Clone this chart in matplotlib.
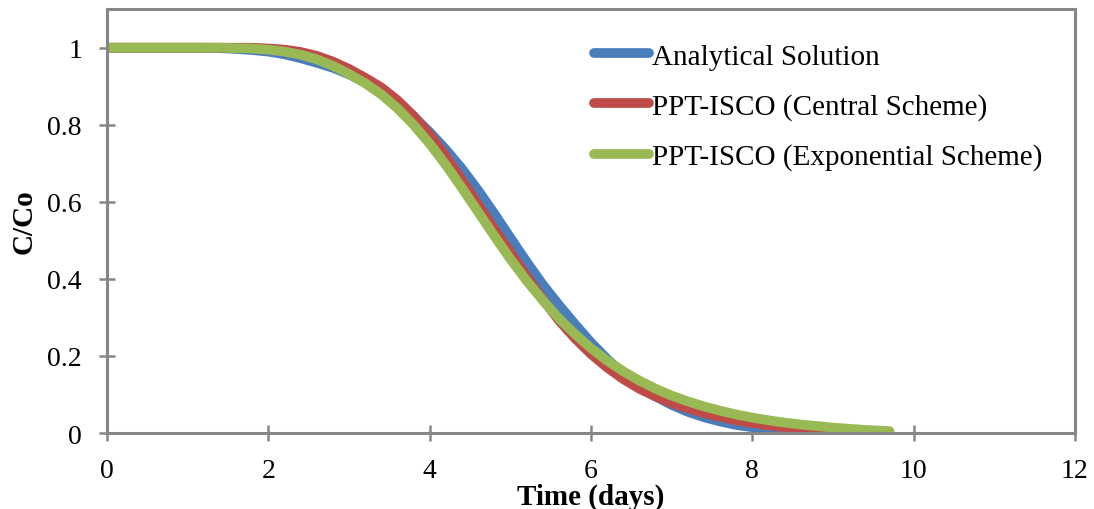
import matplotlib
matplotlib.use("Agg")
import matplotlib.pyplot as plt

plt.rcParams['font.family'] = ['Liberation Serif', 'DejaVu Serif']

# Time (days)
t = [0.0, 0.2, 0.4, 0.6, 0.8, 1.0, 1.2, 1.4, 1.6, 1.8,
     2.0, 2.2, 2.4, 2.6, 2.8, 3.0, 3.2, 3.4, 3.6, 3.8,
     4.0, 4.2, 4.4, 4.6, 4.8, 5.0, 5.2, 5.4, 5.6, 5.8,
     6.0, 6.2, 6.4, 6.6, 6.8, 7.0, 7.2, 7.4, 7.6, 7.8,
     8.0, 8.2, 8.4, 8.6, 8.8, 9.0, 9.2, 9.4, 9.6, 9.7]

analytical = [1.0, 1.0, 1.0, 1.0, 1.0, 1.0, 1.0, 0.999, 0.997, 0.994,
              0.990, 0.983, 0.973, 0.961, 0.948, 0.931, 0.910, 0.886, 0.857, 0.822,
              0.781, 0.736, 0.686, 0.630, 0.570, 0.507, 0.445, 0.386, 0.333, 0.283,
              0.235, 0.192, 0.154, 0.122, 0.095, 0.073, 0.055, 0.041, 0.030, 0.021,
              0.015, 0.010, 0.007, 0.004, 0.003, 0.002, 0.001, 0.001, 0.0, 0.0]

central = [1.0, 1.0, 1.0, 1.0, 1.0, 1.0, 1.0, 1.0, 1.0, 1.0,
           0.998, 0.995, 0.989, 0.979, 0.964, 0.945, 0.922, 0.897, 0.864, 0.823,
           0.774, 0.718, 0.657, 0.593, 0.530, 0.469, 0.408, 0.348, 0.293, 0.246,
           0.205, 0.170, 0.140, 0.115, 0.095, 0.078, 0.064, 0.052, 0.042, 0.033,
           0.026, 0.020, 0.015, 0.011, 0.008, 0.006, 0.004, 0.003, 0.002, 0.002]

exponential = [1.0, 1.0, 1.0, 1.0, 1.0, 1.0, 1.0, 1.0, 0.999, 0.998,
               0.995, 0.990, 0.982, 0.970, 0.953, 0.932, 0.908, 0.879, 0.843, 0.800,
               0.751, 0.696, 0.636, 0.574, 0.512, 0.452, 0.396, 0.345, 0.298, 0.257,
               0.220, 0.188, 0.160, 0.136, 0.115, 0.097, 0.082, 0.069, 0.058, 0.048,
               0.040, 0.033, 0.027, 0.022, 0.018, 0.014, 0.011, 0.008, 0.006, 0.005]

labels = ["Analytical Solution", "PPT-ISCO (Central Scheme)",
          "PPT-ISCO (Exponential Scheme)"]
colors = ["#4A7EBB", "#BE4B48", "#98B954"]

xticks = [0, 2, 4, 6, 8, 10, 12]
yticks = [0, 0.2, 0.4, 0.6, 0.8, 1]
ytick_labels = ["0", "0.2", "0.4", "0.6", "0.8", "1"]

fig = plt.figure(figsize=(10.94, 5.10), dpi=100)
ax = fig.add_axes([0.0978, 0.149, 0.8848, 0.831])

for ys, lab, c in zip([analytical, central, exponential], labels, colors):
    ax.plot(t, ys, color=c, lw=7, solid_capstyle='round',
            solid_joinstyle='round', label=lab)

ax.set_xlim(0, 12)
ax.set_ylim(0, 1.1)
ax.set_xticks(xticks)
ax.set_xticklabels([str(v) for v in xticks])
ax.set_yticks(yticks)
ax.set_yticklabels(ytick_labels)

for s in ax.spines.values():
    s.set_color('#868686')
    s.set_linewidth(2.2)

ax.tick_params(axis='both', direction='inout', length=12, width=1.8,
               color='#868686', labelsize=20)
ax.tick_params(axis='x', pad=12)
ax.tick_params(axis='y', pad=12)

ax.set_xlabel("Time (days)", fontsize=21, fontweight='bold')
ax.set_ylabel("C/Co", fontsize=21, fontweight='bold')
ax.xaxis.set_label_coords(0.5, -0.117)
ax.yaxis.set_label_coords(-0.072, 0.5)

leg = ax.legend(loc='upper left', bbox_to_anchor=(0.503, 0.92), frameon=False,
                fontsize=21, handlelength=1.9, handletextpad=0.1,
                labelspacing=0.8, borderpad=0, borderaxespad=0)

fig.savefig("out.png", dpi=100)
